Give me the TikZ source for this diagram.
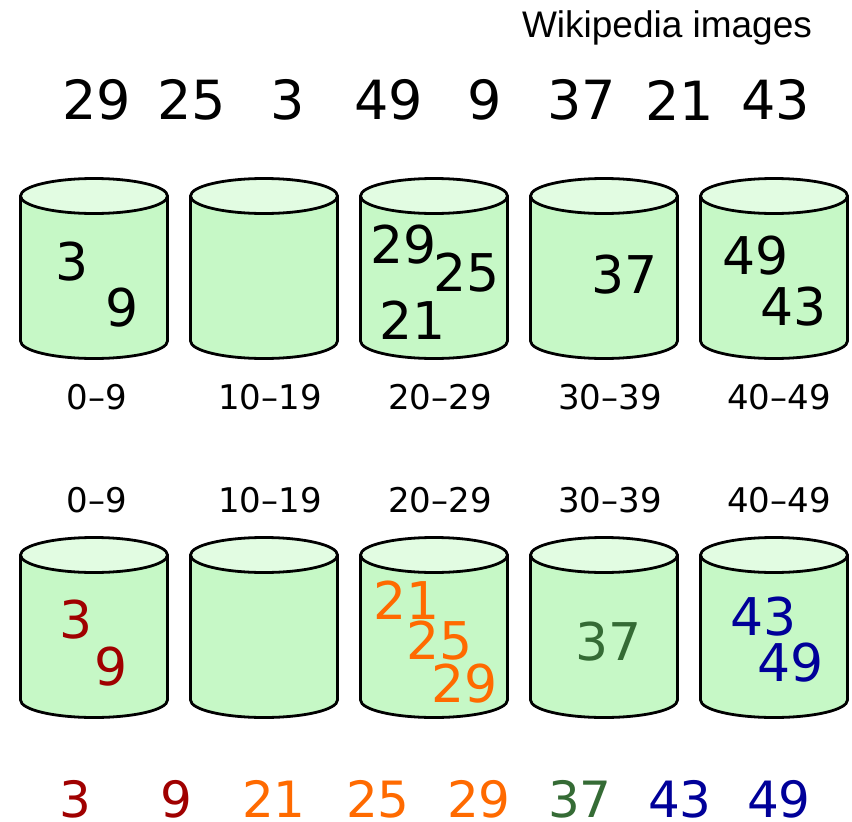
\documentclass[tikz,border=0pt]{standalone}
\usepackage{fontspec}
\setmainfont{DejaVu Sans}
\newfontfamily\wikifont{Liberation Sans}
\definecolor{bodyc}{HTML}{C6F8C6}
\definecolor{topc}{HTML}{E2FCE2}
\definecolor{cred}{HTML}{A00000}
\definecolor{corange}{HTML}{FF6A00}
\definecolor{cgreen}{HTML}{356B35}
\definecolor{cblue}{HTML}{000099}
\newcommand{\drawbucket}[3]{%
  \draw[bucketline, fill=bodyc] (#1-73.5,#2) -- (#1-73.5,#3)
    arc[start angle=180,end angle=360,x radius=73.5pt,y radius=17.5pt]
    -- (#1+73.5,#2) -- cycle;
  \draw[bucketline, fill=topc] (#1,#2) ellipse [x radius=73.5pt, y radius=17.5pt];
}
\begin{document}
\begin{tikzpicture}[x=1pt,y=-1pt,
  bucketline/.style={line width=2.8pt, draw=black, line join=round},
  bignum/.style={inner sep=0pt, anchor=center, font=\fontsize{54}{58}\selectfont},
  innum/.style={inner sep=0pt, anchor=center, font=\fontsize{52}{56}\selectfont},
  botnum/.style={inner sep=0pt, anchor=center, font=\fontsize{50}{54}\selectfont},
  rangelbl/.style={inner sep=0pt, anchor=center, font=\fontsize{34}{38}\selectfont}]
\useasboundingbox (0,0) rectangle (852,822);
\fill[white] (0,0) rectangle (852,822);

\node[inner sep=0pt, anchor=center, font=\wikifont\fontsize{37}{41}\selectfont] (wiki) at (667,28) {Wikipedia images};

% input sequence
\node[bignum] (i1) at (97,100) {29};
\node[bignum] (i2) at (192,100) {25};
\node[bignum] (i3) at (288,100) {3};
\node[bignum] (i4) at (389,100) {49};
\node[bignum] (i5) at (485,100) {9};
\node[bignum] (i6) at (582,100) {37};
\node[bignum] (i7) at (680,100) {21};
\node[bignum] (i8) at (776,100) {43};

% top row buckets
\drawbucket{94}{196}{341}
\drawbucket{264}{196}{341}
\drawbucket{434}{196}{341}
\drawbucket{604}{196}{341}
\drawbucket{774}{196}{341}

\node[innum] (a3) at (72,262) {3};
\node[innum] (a9) at (122,308) {9};
\node[innum] (a29) at (404,245) {29};
\node[innum] (a25) at (467,273) {25};
\node[innum] (a21) at (413,320) {21};
\node[innum] (a37) at (625,275) {37};
\node[innum] (a49) at (756,256) {49};
\node[innum] (a43) at (794,307) {43};

\node[rangelbl] (r1) at (97,397) {0–9};
\node[rangelbl] (r2) at (270,397) {10–19};
\node[rangelbl] (r3) at (440,397) {20–29};
\node[rangelbl] (r4) at (610,397) {30–39};
\node[rangelbl] (r5) at (779,397) {40–49};

% bottom row
\node[rangelbl] (s1) at (97,500) {0–9};
\node[rangelbl] (s2) at (270,500) {10–19};
\node[rangelbl] (s3) at (440,500) {20–29};
\node[rangelbl] (s4) at (610,500) {30–39};
\node[rangelbl] (s5) at (779,500) {40–49};

\drawbucket{94}{555}{700}
\drawbucket{264}{555}{700}
\drawbucket{434}{555}{700}
\drawbucket{604}{555}{700}
\drawbucket{774}{555}{700}

\node[innum, text=cred] (b3) at (76,620) {3};
\node[innum, text=cred] (b9) at (111,667) {9};
\node[innum, text=corange] (b21) at (407,600) {21};
\node[innum, text=corange] (b25) at (440,641) {25};
\node[innum, text=corange] (b29) at (465,684) {29};
\node[innum, text=cgreen] (b37) at (609,642) {37};
\node[innum, text=cblue] (b43) at (764,617) {43};
\node[innum, text=cblue] (b49) at (791,663) {49};

% output sequence
\node[botnum, text=cred] (o1) at (75,799) {3};
\node[botnum, text=cred] (o2) at (176,799) {9};
\node[botnum, text=corange] (o3) at (274,799) {21};
\node[botnum, text=corange] (o4) at (378,799) {25};
\node[botnum, text=corange] (o5) at (479,799) {29};
\node[botnum, text=cgreen] (o6) at (580,799) {37};
\node[botnum, text=cblue] (o7) at (680,799) {43};
\node[botnum, text=cblue] (o8) at (779,799) {49};
\end{tikzpicture}
\end{document}
